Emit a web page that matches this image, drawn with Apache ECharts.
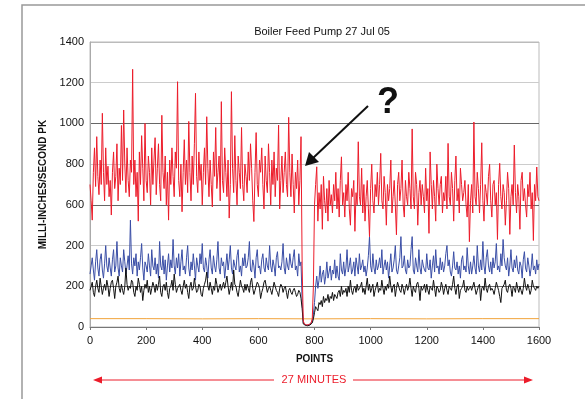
<!DOCTYPE html>
<html>
<head>
<meta charset="utf-8">
<script src="https://cdn.jsdelivr.net/npm/echarts@6/dist/echarts.min.js"></script>
<style>
  html, body { margin: 0; padding: 0; background: #fff; }
  #chart { width: 585px; height: 399px; }
</style>
</head>
<body>
<div id="chart"></div>
<script>
// sample spacing along the POINTS axis
var step = 4;

// red trace
var redVals = [
  700, 620, 525, 760, 880, 690, 935, 740, 650, 820, 700, 1050, 760, 620, 880, 700, 790, 640, 720, 550,
  760, 860, 680, 740, 900, 620, 780, 700, 990, 720, 1066, 800, 660, 880, 720, 640, 820, 760, 1266, 700,
  820, 640, 760, 520, 860, 700, 940, 780, 620, 1000, 720, 660, 840, 760, 600, 880, 700, 820, 930, 650,
  780, 900, 700, 620, 1040, 760, 680, 840, 600, 760, 525, 820, 700, 880, 740, 640, 860, 780, 1205, 720,
  640, 800, 566, 760, 920, 700, 820, 660, 1010, 760, 620, 840, 700, 900, 1148, 740, 660, 860, 720, 800,
  600, 760, 880, 700, 1033, 780, 640, 820, 700, 590, 860, 740, 980, 680, 760, 840, 620, 1107, 720, 660,
  880, 760, 640, 820, 535, 700, 1156, 780, 660, 940, 720, 600, 840, 760, 680, 980, 700, 620, 800, 740,
  660, 860, 720, 900, 780, 620, 518, 760, 955, 700, 640, 820, 760, 880, 700, 580, 840, 720, 660, 900,
  760, 600, 820, 700, 860, 640, 780, 720, 992, 580, 720, 840, 660, 760, 860, 700, 640, 1030, 760, 640,
  850, 700, 560, 760, 680, 820, 600, 720, 935, 300, 30, 15, 12, 10, 10, 12, 15, 20, 40, 200,
  600, 700, 787, 520, 660, 580, 700, 480, 740, 620, 560, 680, 520, 720, 600, 650, 560, 700, 620, 760,
  580, 680, 540, 720, 836, 600, 660, 540, 700, 620, 760, 580, 500, 680, 640, 720, 470, 660, 600, 910,
  640, 600, 780, 560, 700, 520, 640, 720, 580, 444, 680, 800, 620, 560, 700, 640, 760, 600, 700, 853,
  620, 580, 740, 660, 500, 700, 620, 680, 820, 560, 640, 720, 600, 453, 700, 760, 620, 680, 820, 600,
  540, 720, 640, 600, 760, 680, 580, 973, 640, 580, 760, 700, 500, 660, 720, 600, 700, 640, 560, 780,
  620, 680, 460, 860, 700, 580, 720, 640, 520, 800, 680, 600, 700, 740, 560, 660, 620, 740, 580, 902,
  640, 600, 760, 680, 520, 720, 840, 620, 680, 560, 780, 700, 620, 660, 720, 600, 540, 700, 419, 620,
  700, 560, 1007, 640, 600, 760, 680, 560, 700, 905, 620, 520, 700, 660, 600, 740, 800, 620, 540, 700,
  720, 600, 660, 430, 700, 804, 640, 580, 700, 660, 500, 620, 760, 680, 455, 640, 700, 600, 894, 660,
  560, 700, 640, 480, 720, 760, 620, 680, 600, 540, 700, 640, 760, 580, 660, 425, 700, 620, 786, 640,
  620
];

// blue trace
var blueVals = [
  260, 300, 340, 280, 230, 320, 380, 290, 250, 330, 360, 280, 240, 310, 400, 300, 270, 340, 290, 250,
  330, 380, 270, 300, 420, 290, 250, 340, 300, 270, 380, 320, 260, 300, 350, 280, 525, 310, 260, 340,
  300, 360, 250, 320, 280, 340, 410, 290, 230, 320, 300, 270, 360, 300, 250, 380, 300, 280, 340, 260,
  310, 240, 420, 300, 280, 350, 260, 330, 230, 300, 360, 270, 330, 290, 430, 300, 260, 340, 290, 360,
  250, 320, 380, 280, 300, 260, 340, 400, 290, 250, 320, 280, 360, 300, 230, 340, 300, 270, 360, 310,
  410, 290, 270, 340, 300, 240, 330, 380, 290, 260, 350, 300, 270, 330, 420, 290, 260, 340, 300, 320,
  240, 300, 360, 280, 330, 400, 290, 260, 330, 300, 280, 350, 380, 270, 300, 250, 340, 300, 360, 290,
  300, 340, 420, 280, 270, 330, 300, 240, 340, 380, 290, 300, 260, 330, 360, 290, 270, 340, 300, 280,
  400, 300, 270, 330, 300, 250, 340, 370, 290, 300, 280, 320, 410, 290, 260, 340, 300, 280, 360, 310,
  290, 340, 380, 280, 300, 250, 360, 300, 320, 120, 20, 12, 10, 8, 8, 10, 12, 15, 30, 60,
  120, 200, 250, 190, 230, 300, 220, 260, 280, 210, 250, 320, 240, 270, 300, 230, 280, 260, 330, 240,
  300, 250, 230, 360, 280, 260, 320, 250, 290, 380, 270, 300, 340, 260, 280, 320, 250, 340, 300, 260,
  360, 280, 300, 330, 270, 300, 250, 290, 350, 444, 300, 270, 360, 290, 260, 330, 280, 300, 340, 290,
  380, 260, 300, 330, 280, 320, 240, 300, 360, 270, 290, 330, 400, 280, 260, 300, 340, 444, 290, 300,
  350, 280, 260, 330, 290, 300, 380, 444, 280, 260, 340, 300, 270, 380, 290, 260, 330, 300, 280, 270,
  360, 290, 280, 330, 240, 300, 350, 270, 380, 290, 300, 260, 340, 280, 320, 270, 300, 360, 400, 300,
  330, 270, 250, 300, 370, 290, 280, 320, 260, 300, 240, 330, 350, 280, 300, 270, 390, 300, 260, 320,
  260, 300, 350, 290, 260, 400, 300, 270, 330, 280, 420, 300, 260, 340, 380, 300, 270, 320, 260, 340,
  290, 320, 410, 280, 300, 270, 360, 300, 430, 340, 300, 280, 340, 250, 300, 380, 290, 270, 330, 290,
  350, 280, 260, 320, 300, 240, 330, 370, 290, 270, 340, 300, 250, 290, 360, 280, 300, 260, 330, 280,
  310
];

// black trace
var blackVals = [
  180, 200, 220, 170, 150, 200, 230, 190, 170, 240, 200, 160, 190, 210, 180, 230, 200, 150, 190, 220,
  230, 190, 140, 200, 220, 250, 190, 170, 210, 180, 160, 200, 290, 210, 180, 200, 190, 230, 220, 170,
  150, 200, 180, 240, 210, 170, 200, 130, 180, 210, 190, 230, 170, 200, 160, 190, 220, 200, 170, 210,
  180, 210, 250, 170, 150, 200, 210, 180, 220, 170, 140, 190, 200, 230, 180, 260, 210, 170, 190, 200,
  210, 180, 160, 200, 230, 190, 210, 170, 140, 200, 220, 180, 190, 240, 200, 170, 180, 210, 200, 160,
  150, 190, 210, 230, 270, 200, 180, 220, 190, 160, 200, 180, 240, 210, 170, 190, 210, 180, 200, 220,
  190, 220, 250, 200, 160, 190, 220, 180, 280, 210, 200, 170, 150, 190, 230, 200, 190, 170, 210, 180,
  210, 190, 170, 220, 240, 190, 160, 180, 200, 220, 210, 190, 140, 170, 190, 220, 230, 200, 170, 190,
  200, 180, 160, 190, 220, 200, 180, 170, 150, 190, 210, 200, 170, 190, 200, 170, 140, 180, 190, 170,
  160, 180, 190, 170, 150, 160, 180, 170, 140, 90, 15, 10, 8, 6, 6, 8, 10, 12, 20, 40,
  70, 100, 90, 80, 120, 110, 130, 100, 150, 120, 140, 130, 160, 120, 150, 140, 170, 130, 160, 150,
  140, 170, 180, 150, 200, 160, 180, 170, 190, 150, 200, 170, 230, 180, 160, 190, 200, 170, 210, 180,
  180, 200, 220, 170, 190, 160, 200, 240, 180, 210, 170, 190, 210, 150, 180, 200, 220, 170, 190, 180,
  230, 190, 160, 200, 180, 210, 190, 250, 200, 170, 200, 210, 150, 190, 220, 200, 180, 170, 210, 190,
  160, 190, 210, 180, 200, 240, 190, 150, 200, 180, 170, 210, 220, 190, 130, 200, 180, 190, 210, 170,
  210, 180, 160, 200, 190, 180, 230, 190, 150, 200, 190, 170, 180, 220, 200, 160, 190, 210, 180, 160,
  200, 190, 180, 210, 250, 190, 160, 200, 210, 140, 180, 190, 200, 230, 180, 170, 200, 180, 190, 200,
  180, 200, 220, 190, 160, 180, 200, 210, 130, 190, 200, 180, 240, 190, 170, 200, 210, 180, 190, 180,
  160, 190, 220, 200, 180, 150, 120, 190, 200, 210, 230, 180, 170, 200, 210, 190, 150, 200, 190, 170,
  220, 190, 170, 200, 180, 160, 190, 240, 200, 180, 210, 190, 160, 180, 230, 200, 190, 180, 200, 190,
  200
];

// orange baseline, one value per 200 points
var orangeX = [0, 200, 400, 600, 800, 1000, 1200, 1400, 1600];
var orangeVals = [41, 41, 40, 41, 40, 41, 40, 41, 41];

// y tick labels as printed (the 400 line is labelled 200 in the original)
var yTickLabels = ['0', '200', '200', '600', '800', '1000', '1200', '1400'];
var xTickLabels = ['0', '200', '400', '600', '800', '1000', '1200', '1400', '1600'];

function pairs(vals) {
    var out = [];
    for (var i = 0; i < vals.length; i++) {
        out.push([i * step, vals[i]]);
    }
    return out;
}

var font = 'Liberation Sans, Arial, sans-serif';
var red = '#ec1c2a';

var option = {
    animation: false,
    title: {
        text: 'Boiler Feed Pump 27 Jul 05',
        left: 317,
        top: 21,
        textAlign: 'center',
        textStyle: { fontFamily: font, fontSize: 11, fontWeight: 'normal', color: '#111' }
    },
    grid: {
        left: 90, right: 46, top: 42, bottom: 72,
        show: true, borderColor: '#bbb', borderWidth: 1
    },
    xAxis: {
        type: 'value',
        min: 0, max: 1600, interval: 200,
        name: 'POINTS',
        nameLocation: 'middle',
        nameGap: 27,
        nameTextStyle: { fontFamily: font, fontSize: 10, fontWeight: 'bold', color: '#111' },
        axisLine: { lineStyle: { color: '#777' } },
        axisTick: { show: true, length: 3, lineStyle: { color: '#777' } },
        axisLabel: {
            fontFamily: font, fontSize: 11, color: '#111', margin: 8,
            formatter: function (v) { return xTickLabels[Math.round(v / 200)]; }
        },
        splitLine: { show: false }
    },
    yAxis: {
        type: 'value',
        min: 0, max: 1400, interval: 200,
        name: 'MILLI-INCHES/SECOND PK',
        nameLocation: 'middle',
        nameGap: 36,
        nameTextStyle: { fontFamily: font, fontSize: 10, fontWeight: 'bold', color: '#111' },
        axisLine: { show: true, lineStyle: { color: '#aaa' } },
        axisTick: { show: false },
        axisLabel: {
            fontFamily: font, fontSize: 11, color: '#111', margin: 6,
            formatter: function (v) { return yTickLabels[Math.round(v / 200)]; }
        },
        splitLine: {
            show: true,
            lineStyle: { color: ['#999', '#666', '#ccc', '#666', '#ccc', '#666', '#ccc', '#bbb'], width: 1 }
        }
    },
    series: [
        {
            type: 'line', name: 'orange', symbol: 'none',
            data: orangeX.map(function (x, i) { return [x, orangeVals[i]]; }),
            lineStyle: { color: '#f2a33a', width: 1 }
        },
        {
            type: 'line', name: 'blue', symbol: 'none',
            data: pairs(blueVals),
            lineStyle: { color: '#3a4ea6', width: 1 }
        },
        {
            type: 'line', name: 'black', symbol: 'none',
            data: pairs(blackVals),
            lineStyle: { color: '#111', width: 1 }
        },
        {
            type: 'line', name: 'red', symbol: 'none',
            data: pairs(redVals),
            lineStyle: { color: red, width: 1 }
        }
    ],
    graphic: [
        // outer frame
        { type: 'rect', shape: { x: 22, y: 5, width: 620, height: 430 },
          style: { fill: 'none', stroke: '#999', lineWidth: 1.5 }, silent: true },
        // question mark and pointer
        { type: 'text', style: { text: '?', x: 388, y: 103, align: 'center', verticalAlign: 'middle',
          font: 'bold 36px Liberation Sans, Arial, sans-serif', fill: '#111' }, z: 100 },
        { type: 'line', shape: { x1: 368, y1: 106, x2: 312, y2: 159 },
          style: { stroke: '#111', lineWidth: 2 }, z: 100 },
        { type: 'polygon', shape: { points: [[305, 166], [309, 152], [319, 162]] },
          style: { fill: '#111' }, z: 100 },
        // 27 minutes span
        { type: 'text', style: { text: '27 MINUTES', x: 314, y: 380, align: 'center', verticalAlign: 'middle',
          font: '11px Liberation Sans, Arial, sans-serif', fill: red } },
        { type: 'line', shape: { x1: 100, y1: 380, x2: 274, y2: 380 }, style: { stroke: red, lineWidth: 1 } },
        { type: 'polygon', shape: { points: [[93, 380], [102, 376.5], [102, 383.5]] }, style: { fill: red } },
        { type: 'line', shape: { x1: 353, y1: 380, x2: 526, y2: 380 }, style: { stroke: red, lineWidth: 1 } },
        { type: 'polygon', shape: { points: [[533, 380], [524, 376.5], [524, 383.5]] }, style: { fill: red } }
    ]
};

var chart = echarts.init(document.getElementById('chart'));
chart.setOption(option);
</script>
</body>
</html>
